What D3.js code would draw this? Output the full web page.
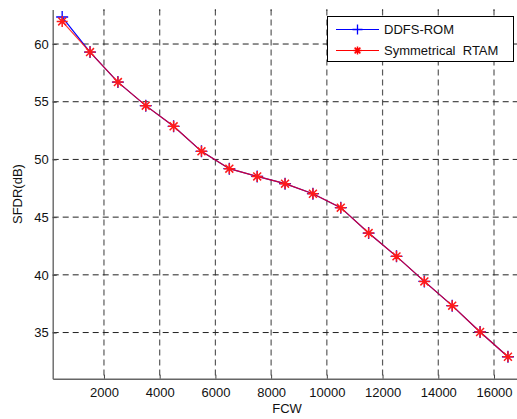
<!DOCTYPE html>
<html><head><meta charset="utf-8">
<script src="https://cdn.jsdelivr.net/npm/d3@7"></script>
<style>body{margin:0;background:#fff}svg{display:block}text{font-family:"Liberation Sans",Arial,sans-serif}</style>
</head><body>
<svg id="c" width="517" height="419"></svg>
<script>
const fcw = [500,1500,2500,3500,4500,5500,6500,7500,8500,9500,10500,11500,12500,13500,14500,15500,16500];
const ddfsRom = [62.34,59.3,56.7,54.66,52.87,50.7,49.2,48.53,47.9,47.03,45.82,43.62,41.6,39.43,37.33,35.05,32.9];
const symRtam = [61.96,59.3,56.7,54.66,52.87,50.7,49.2,48.53,47.9,47.03,45.82,43.62,41.6,39.43,37.33,35.05,32.9];
const xTicks = [2000,4000,6000,8000,10000,12000,14000,16000];
const yTicks = [35,40,45,50,55,60];
const seriesNames = ["DDFS-ROM","Symmetrical  RTAM"];

const svg = d3.select("#c");
const L = 52.7, B = 378.7, T = 9.4;
const x = d3.scaleLinear().domain([160,17000]).range([L, L + 16840*0.02786]);
const y = d3.scaleLinear().domain([31,63]).range([B, T]);
const R = x.range()[1];

// grid
const g = svg.append("g");
g.selectAll(".vg").data(xTicks).enter().append("line")
  .attr("x1", d=>x(d)).attr("x2", d=>x(d)).attr("y1", T).attr("y2", B)
  .attr("stroke", "#5a5a5a").attr("stroke-width", 1.2).attr("stroke-dasharray", "6,4");
g.selectAll(".hg").data(yTicks).enter().append("line")
  .attr("x1", L).attr("x2", R).attr("y1", d=>y(d)).attr("y2", d=>y(d))
  .attr("stroke", "#222").attr("stroke-width", 1).attr("stroke-dasharray", "6,4");

// axes
const xa = svg.append("g").attr("transform", `translate(0,${B})`)
  .call(d3.axisBottom(x).tickValues(xTicks).tickSizeInner(-4).tickSizeOuter(0).tickPadding(9).tickFormat(d3.format("d")));
const ya = svg.append("g").attr("transform", `translate(${L},0)`)
  .call(d3.axisLeft(y).tickValues(yTicks).tickSizeInner(-4).tickSizeOuter(0).tickPadding(4));
[xa, ya].forEach(a => {
  a.select(".domain").attr("stroke", "#666").attr("stroke-width", 1.4);
  a.selectAll(".tick line").attr("stroke", "#444");
  a.selectAll("text").attr("font-size", 13).attr("fill", "#111").attr("font-family", '"Liberation Sans",Arial,sans-serif');
});
// top ticks
svg.append("g").selectAll("line").data(xTicks).enter().append("line")
  .attr("x1", d=>x(d)).attr("x2", d=>x(d)).attr("y1", T).attr("y2", T+1.5)
  .attr("stroke", "#333");

// labels
svg.append("text").attr("x", 287).attr("y", 413).attr("text-anchor", "middle")
  .attr("font-size", 13).attr("fill", "#111").text("FCW");
svg.append("text").attr("transform", `translate(22,${(T+B)/2}) rotate(-90)`).attr("text-anchor", "middle")
  .attr("font-size", 13).attr("fill", "#111").text("SFDR(dB)");

// series
const line = d3.line().x((d,i)=>x(fcw[i])).y(d=>y(d));
function plus(sel, cx, cy, s, col){
  sel.append("path").attr("d", `M${cx-s},${cy}H${cx+s}M${cx},${cy-s}V${cy+s}`).attr("stroke", col).attr("stroke-width", 1.3).attr("fill","none");
}
function star(sel, cx, cy, s, col){
  const d = s*0.72;
  sel.append("path").attr("d", `M${cx-s},${cy}H${cx+s}M${cx},${cy-s}V${cy+s}M${cx-d},${cy-d}L${cx+d},${cy+d}M${cx-d},${cy+d}L${cx+d},${cy-d}`)
    .attr("stroke", col).attr("stroke-width", 1.5).attr("fill","none");
}
const sg = svg.append("g");
sg.append("path").datum(ddfsRom).attr("d", line).attr("fill","none").attr("stroke","#0000ff").attr("stroke-width",1.2);
ddfsRom.forEach((v,i)=>plus(sg, x(fcw[i]), y(v), 6, "#0000ff"));
const rg = svg.append("g");
rg.append("path").datum(symRtam).attr("d", line).attr("fill","none").attr("stroke","#ff0000").attr("stroke-opacity",0.8).attr("stroke-width",1.2);
symRtam.forEach((v,i)=>star(rg, x(fcw[i]), y(v), 5.5, "#ff1a1a"));

// legend
const lg = svg.append("g");
lg.append("rect").attr("x", 327.5).attr("y", 16.5).attr("width", 186).attr("height", 45)
  .attr("fill", "#fff").attr("stroke", "#000").attr("stroke-width", 1);
const ly = [29.5, 50.5], cols = ["#0000ff","#ff0000"];
seriesNames.forEach((n,i)=>{
  lg.append("line").attr("x1", 336).attr("x2", 379).attr("y1", ly[i]).attr("y2", ly[i]).attr("stroke", cols[i]).attr("stroke-width", 1.2);
  if(i===0) plus(lg, 357.5, ly[i], 5, cols[i]); else star(lg, 357.5, ly[i], 4, cols[i]);
  lg.append("text").attr("x", 384).attr("y", ly[i]+4.6).attr("font-size", 13).attr("fill", "#111")
    .attr("xml:space","preserve").style("white-space","pre").text(n);
});
</script>
</body></html>
